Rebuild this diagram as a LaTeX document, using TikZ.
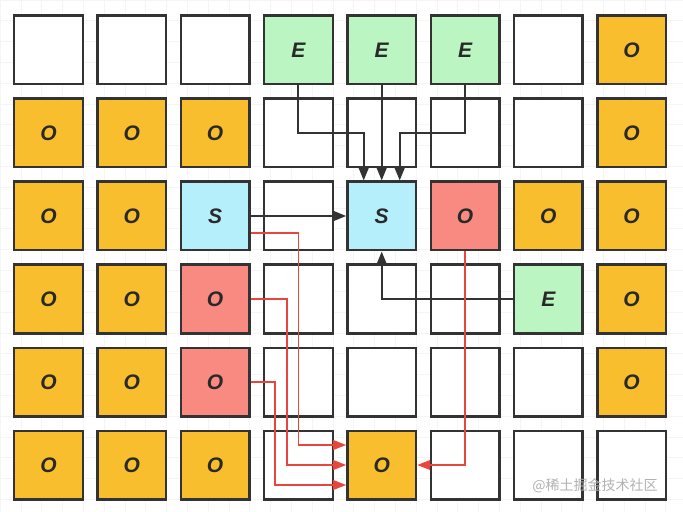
\documentclass[tikz,border=0pt]{standalone}
\usepackage{fontspec}
\setmainfont{Liberation Sans}
\newfontfamily\cjk{Noto Sans CJK SC}
\usetikzlibrary{positioning,arrows.meta,calc}
\definecolor{ink}{HTML}{333333}
\definecolor{cOrange}{HTML}{F9BE2E}
\definecolor{cGreen}{HTML}{BAF5C2}
\definecolor{cBlue}{HTML}{B5EFFB}
\definecolor{cPink}{HTML}{F98A82}
\definecolor{cRed}{HTML}{E8453C}
\tikzset{
  cell/.style={draw=ink, line width=1.2pt, minimum size=34.3pt, inner sep=0pt,
    font=\fontsize{10.5}{12}\selectfont\bfseries\itshape, text=ink!80!black},
  kind-w/.style={cell, fill=white, node contents={}},
  kind-o/.style={cell, fill=cOrange, node contents={O}},
  kind-e/.style={cell, fill=cGreen, node contents={E}},
  kind-s/.style={cell, fill=cBlue, node contents={S}},
  kind-r/.style={cell, fill=cPink, node contents={O}},
  link/.style={-{Triangle[length=6.5pt,width=5pt]}, draw=ink, line width=1pt},
  hot/.style={-{Triangle[length=6.5pt,width=4.8pt]}, draw=cRed, line width=0.9pt},
}

\begin{document}
\begin{tikzpicture}[x=0.5pt, y=-0.5pt]
\useasboundingbox (0,0) rectangle (683,512);
\fill[white] (0,0) rectangle (683,512);
\draw[black!4, line width=0.3pt, step=10.4pt] (0,0) grid (683,512);
% board, one list per row
\foreach \kinds [count=\ry from 0] in {{w,w,w,e,e,e,w,o},{o,o,o,w,w,w,w,o},
    {o,o,s,w,s,r,o,o},{o,o,r,w,w,w,e,o},{o,o,r,w,w,w,w,o},{o,o,o,w,o,w,w,w}}{
  \foreach \t [count=\cx from 0] in \kinds
    \node (c\cx\ry) at ({48.5+83.3*\cx},{50+83*\ry}) [kind-\t];
}
% ends on the target cell
\coordinate (inA) at ([yshift=10pt]c45.west);
\coordinate (inB) at (c45.west);
\coordinate (inC) at ([yshift=-10pt]c45.west);
\coordinate (inD) at (c45.east);
% black links into S
\draw[link] (c30.south) |- ([xshift=-9pt]c42.north |- c41) -- ([xshift=-9pt]c42.north);
\draw[link] (c40.south) -- (c42.north);
\draw[link] (c50.south) |- ([xshift=9pt]c42.north |- c41) -- ([xshift=9pt]c42.north);
\draw[link] (c22.east) -- (c42.west);
\draw[link] (c63.west) -| (c42.south);
% red links into O
\draw[hot] ([yshift=-8.5pt]c22.east) -| (c35 |- inA) -- (inA);
\draw[hot] (c23.east) -| ([xshift=-5.75pt]c35.center |- inB) -- (inB);
\draw[hot] (c24.east) -| ([xshift=-11.75pt]c35.center |- inC) -- (inC);
\draw[hot] (c52.south) |- (inD);
\node[font=\cjk\fontsize{7}{8}\selectfont, text=black!30] (mark) at (595,486) {@稀土掘金技术社区};
\end{tikzpicture}
\end{document}
